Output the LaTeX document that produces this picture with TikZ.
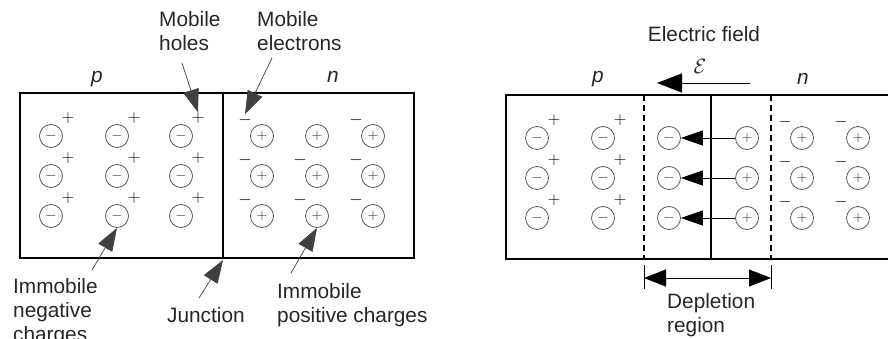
\documentclass[tikz,border=0pt]{standalone}
\usepackage{fontspec}
\setmainfont{Liberation Sans}
\usetikzlibrary{arrows.meta}

\begin{document}
\begin{tikzpicture}[
            x = 1pt, y = -1pt,
            every node/.style={inner sep=0pt, text=black!85},
            txt/.style={font=\fontsize{20.8}{24}\selectfont, align=left},
            ion/.style={circle, draw=black!65, line width=.8pt, minimum size=23pt, font=\fontsize{15}{15}\selectfont},
            sign/.style={font=\fontsize{18}{18}\selectfont, text=black},
            line/.style={line width = .05cm},
            lead/.style={line width=.7pt, draw=black!75, -{Triangle[length=23pt, width=16pt]}},
            field/.style={line width=.8pt, -{Triangle[length=22pt, width=15pt]}},
            dline/.style={line width=2pt, dash pattern=on 6pt off 4pt},
            ]
        
        \useasboundingbox (0,0) rectangle (888,339);
        
        % left: the two sides before contact
        \draw[line] (20,93) rectangle (414,258);
        \draw[line] (223,93) -- (223,258);
        \coordinate (junc) at (223,260);
        
        \foreach \r/\y in {1/136,2/176,3/216} {
            \foreach \c/\x in {1/51,2/117,3/181} {
                \node[ion] (a\r\c) at (\x,\y) {$-$};
                \node[sign] (ha\r\c) at ([shift={(17,-18)}]a\r\c) {$+$};
            }
            \foreach \c/\x in {1/262,2/317,3/373}
                \node[ion] (b\r\c) at (\x,\y) {$+$};
        }
        \foreach \rc in {11,13,21,22,23,31,32,33}
            \node[sign] (hb\rc) at ([shift={(-17,-16)}]b\rc) {$-$};
        
        \node[txt, anchor=base] (p1) at (97,83) {\itshape p};
        \node[txt, anchor=base] (n1) at (333,83) {\itshape n};
        \node[txt, anchor=north west] (mobh) at (159,11) {Mobile\\holes};
        \node[txt, anchor=north west] (mobe) at (257,11) {Mobile\\electrons};
        \node[txt, anchor=north west] (imn) at (13,278) {Immobile\\negative\\charges};
        \node[txt, anchor=base west] (jun) at (167,322) {Junction};
        \node[txt, anchor=north west] (imp) at (277,283) {Immobile\\positive charges};
        
        \coordinate (mh) at (182,63);
        \coordinate (me) at (272,58);
        \coordinate (in) at (92,270);
        \coordinate (jn) at (199,298);
        \coordinate (ip) at (291,273);
        \draw[lead] (mh) -- (ha13.north);
        \draw[lead] (me) -- (hb11.north);
        \draw[lead] (in) -- (a32.south);
        \draw[lead] (jn) -- (junc);
        \draw[lead] (ip) -- (b32.south);
        
        % right: after contact, depletion region
        \draw[line] (888,95) -- (506,95) -- (506,259) -- (888,259);
        \draw[line] (711,95) -- (711,259);
        \draw[dline] (644,95) -- (644,259);
        \draw[dline] (771,95) -- (771,259);
        
        \foreach \r/\y in {1/138,2/178,3/218} {
            \foreach \c/\x in {1/537,2/603} {
                \node[ion] (c\r\c) at (\x,\y) {$-$};
                \node[sign] (hc\r\c) at ([shift={(17,-18)}]c\r\c) {$+$};
            }
            \node[ion] (d\r1) at (669,\y) {$-$};
            \node[ion] (d\r2) at (747,\y) {$+$};
            \draw[field] (d\r2) -- (d\r1);
            \foreach \c/\x in {1/802,2/858} {
                \node[ion] (e\r\c) at (\x,\y) {$+$};
                \node[sign] (he\r\c) at ([shift={(-17,-16)}]e\r\c) {$-$};
            }
        }
        
        \node[txt, anchor=base] (p2) at (598,83) {\itshape p};
        \node[txt, anchor=base] (n2) at (803,85) {\itshape n};
        \node[txt, anchor=base] (ef) at (704,42) {Electric field};
        \node[font=\fontsize{20}{20}\selectfont] (eps) at (700,66) {$\mathcal{E}$};
        \coordinate (ef1) at (750,83);
        \coordinate (ef2) at (657,83);
        \draw[line width=.8pt, -{Triangle[length=25pt, width=19pt]}] (ef1) -- (ef2);
        
        \coordinate (dl) at (644,278);
        \coordinate (dr) at (771,278);
        \draw[line width=.8pt] (644,265) -- (644,289);
        \draw[line width=.8pt] (771,265) -- (771,289);
        \draw[line width=.8pt, {Triangle[length=22pt, width=17pt]}-{Triangle[length=22pt, width=17pt]}] (dl) -- (dr);
        \node[txt, anchor=north west] (dep) at (667,293) {Depletion\\region};
    \end{tikzpicture}
\end{document}
